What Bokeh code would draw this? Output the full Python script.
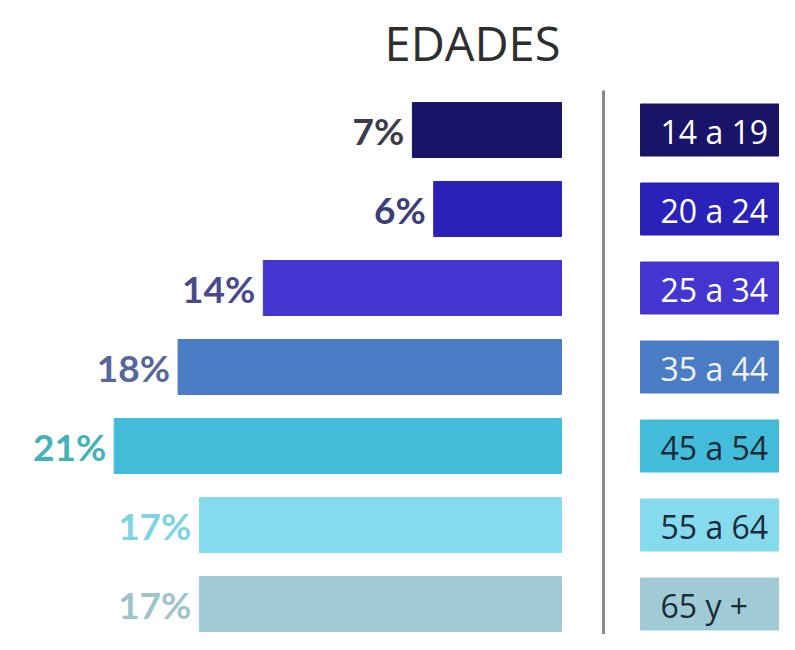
from bokeh.plotting import figure
from bokeh.models import Range1d, ColumnDataSource, Label
from bokeh.embed import file_html
from bokeh.resources import INLINE
from bokeh.core.properties import value

# ---- data ----
title_text = "EDADES"
age_groups = ["14 a 19", "20 a 24", "25 a 34", "35 a 44", "45 a 54", "55 a 64", "65 y +"]
percentages = [7, 6, 14, 18, 21, 17, 17]
bar_colors = ["#1a1468", "#2a21b8", "#4535d0", "#4a7dc6", "#42bcd9", "#86daee", "#a0cbd6"]
value_label_colors = ["#3b3b4a", "#3d3d78", "#4a4a8c", "#56679a", "#45b2b8", "#7fd3e3", "#9ec3cb"]
legend_text_colors = ["#ffffff", "#ffffff", "#ffffff", "#f2f2f2", "#1c2b3a", "#1c2b3a", "#1c2b3a"]

# ---- layout constants (screen geometry) ----
W, H = 779, 634
PX_PER_PCT = 21.3          # pixels per percentage point
ZERO_X = 561               # screen x (within figure) of bar baseline
ROW0_Y = 129.5             # screen y (within figure) of first row centre
ROW_STEP = 79.0            # pixels between rows
BAR_H_PX = 55
BOX_H_PX = 52

x_start = ZERO_X / PX_PER_PCT
x_end = (ZERO_X - W) / PX_PER_PCT
y_top = -ROW0_Y / ROW_STEP
y_bot = (H - ROW0_Y) / ROW_STEP

p = figure(width=W, height=H, output_backend="svg", toolbar_location=None,
           x_range=Range1d(x_start, x_end), y_range=Range1d(y_bot, y_top),
           x_axis_type=None, y_axis_type=None, min_border=0,
           background_fill_color="white", border_fill_color="white")
p.outline_line_color = None
p.grid.visible = False

idx = list(range(len(age_groups)))
src = ColumnDataSource(dict(
    y=idx, pct=percentages, color=bar_colors,
    label=[f"{v}%" for v in percentages], lcolor=value_label_colors,
    group=age_groups, gcolor=legend_text_colors,
))

# bars growing leftwards
p.hbar(y="y", left=0, right="pct", height=BAR_H_PX / ROW_STEP, color="color", source=src)

# value labels
p.text(x="pct", y="y", text="label", source=src, x_offset=-8,
       text_align="right", text_baseline="middle", text_color="lcolor",
       text_font=value("Lato"), text_font_style="bold", text_font_size="37px")

# divider line
div_x = -42 / PX_PER_PCT
p.segment(x0=div_x, y0=-0.5, x1=div_x, y1=len(age_groups) + 1,
          line_color="#8a8a8a", line_width=3)

# legend boxes with age labels
box_left = -79 / PX_PER_PCT
box_right = -260 / PX_PER_PCT
p.hbar(y="y", left=box_left, right=box_right, height=BOX_H_PX / ROW_STEP, color="color", source=src)
p.text(x=box_left, y="y", text="group", source=src, x_offset=20, y_offset=1,
       text_align="left", text_baseline="middle", text_color="gcolor",
       text_font=value("Open Sans"), text_font_size="32px")

# title
p.add_layout(Label(x=472, y=H - 42, x_units="screen", y_units="screen",
                   text=title_text, text_align="center", text_baseline="middle",
                   text_font="Open Sans", text_font_size="47px", text_color="#2e2e2e"))

open("out.html", "w").write(file_html(p, INLINE))
